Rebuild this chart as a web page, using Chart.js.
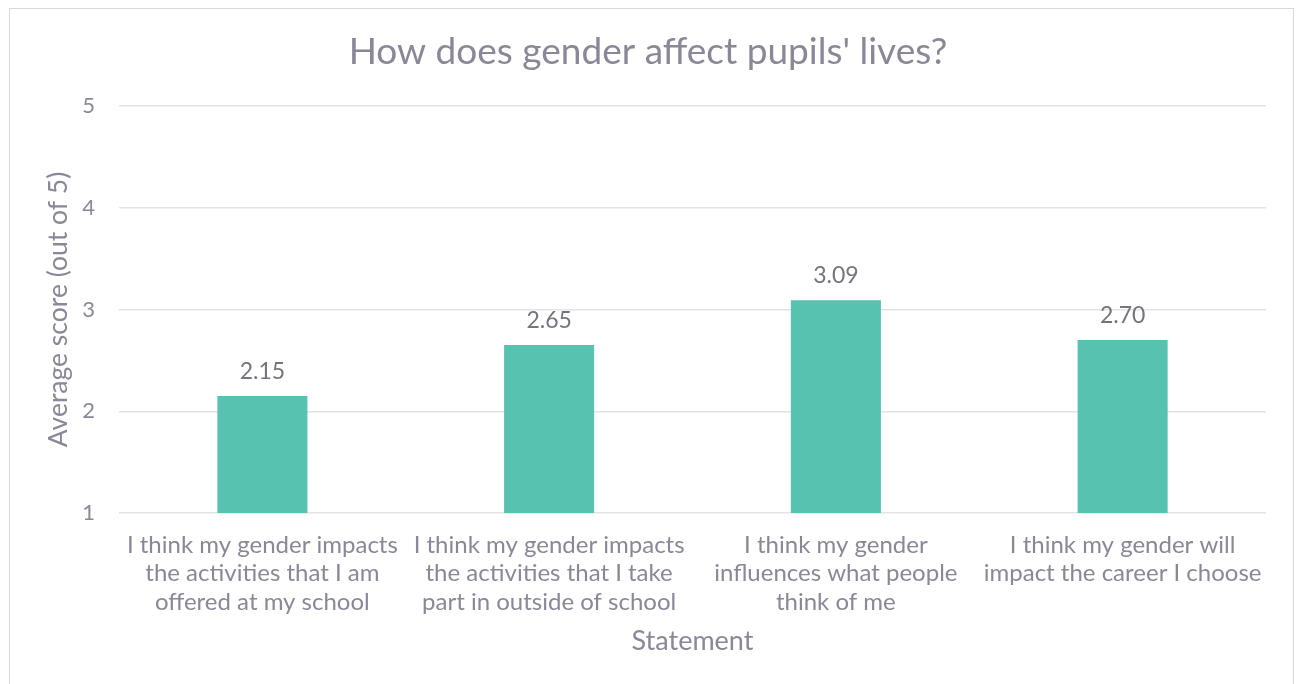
<!DOCTYPE html>
<html>
<head>
<meta charset="utf-8">
<script src="https://cdn.jsdelivr.net/npm/chart.js@4.4.0/dist/chart.umd.min.js"></script>
<style>
html,body{margin:0;padding:0;background:#fff;}
#box{position:absolute;left:0;top:0;width:1298px;height:684px;}
</style>
</head>
<body>
<div id="box"><canvas id="c" width="1298" height="684"></canvas></div>
<script>
const categories = [
  ["I think my gender impacts", "the activities that I am", "offered at my school"],
  ["I think my gender impacts", "the activities that I take", "part in outside of school"],
  ["I think my gender", "influences what people", "think of me"],
  ["I think my gender will", "impact the career I choose"]
];
const scores = [2.15, 2.65, 3.09, 2.70];
const yTicks = [1, 2, 3, 4, 5];

const TEXT = '#8b8797';
const FONT = 'Lato';

const frame = {
  id: 'frame',
  beforeDraw(chart) {
    const ctx = chart.ctx;
    ctx.save();
    ctx.fillStyle = '#fff';
    ctx.fillRect(0, 0, chart.width, chart.height);
    ctx.strokeStyle = '#d9d9d9';
    ctx.lineWidth = 1;
    ctx.strokeRect(9.5, 8.5, 1284, 700);
    ctx.restore();
  }
};

const valueLabels = {
  id: 'valueLabels',
  afterDatasetsDraw(chart) {
    const ctx = chart.ctx;
    const meta = chart.getDatasetMeta(0);
    ctx.save();
    ctx.fillStyle = '#77727f';
    ctx.font = '23px ' + FONT;
    ctx.textAlign = 'center';
    ctx.textBaseline = 'alphabetic';
    meta.data.forEach((bar, i) => {
      ctx.fillText(scores[i].toFixed(2), bar.x, bar.y - 17);
    });
    ctx.restore();
  }
};

function build() {
  new Chart(document.getElementById('c'), {
    type: 'bar',
    data: {
      labels: categories,
      datasets: [{
        data: scores,
        backgroundColor: '#57c2af',
        borderWidth: 0,
        barPercentage: 0.314,
        categoryPercentage: 1.0
      }]
    },
    options: {
      responsive: false,
      animation: false,
      layout: { padding: { left: 30, right: 32, top: 11, bottom: 0 } },
      plugins: {
        legend: { display: false },
        tooltip: { enabled: false },
        title: {
          display: true,
          text: "How does gender affect pupils' lives?",
          color: TEXT,
          font: { family: FONT, size: 37, weight: 'normal', lineHeight: 1.2 },
          padding: { top: 19, bottom: 31.6 }
        }
      },
      scales: {
        x: {
          grid: { display: false, drawTicks: false },
          border: { display: false },
          ticks: {
            color: TEXT,
            font: { family: FONT, size: 24, lineHeight: 1.19 },
            padding: 17.5,
            maxRotation: 0,
            autoSkip: false
          },
          title: {
            display: true,
            text: 'Statement',
            color: TEXT,
            font: { family: FONT, size: 27, lineHeight: 1.2 },
            padding: { top: 0, bottom: 27 }
          },
          afterFit(scale) { scale.height = 171; }
        },
        y: {
          min: 1,
          max: 5,
          afterBuildTicks(scale) { scale.ticks = yTicks.map(v => ({ value: v })); },
          grid: { color: '#e3e3e3', lineWidth: 1.5, drawTicks: false },
          border: { display: false },
          ticks: {
            color: TEXT,
            font: { family: FONT, size: 22 },
            padding: 24
          },
          title: {
            display: true,
            text: 'Average score (out of 5)',
            color: TEXT,
            font: { family: FONT, size: 26.5, lineHeight: 1.2 },
            padding: { top: 13, bottom: 0 }
          },
          afterFit(scale) { scale.width = 89; }
        }
      }
    },
    plugins: [frame, valueLabels]
  });
}

if (document.fonts && document.fonts.load) {
  Promise.all([document.fonts.load('20px Lato'), document.fonts.load('31px Lato')]).then(build, build);
} else { build(); }
</script>
</body>
</html>
